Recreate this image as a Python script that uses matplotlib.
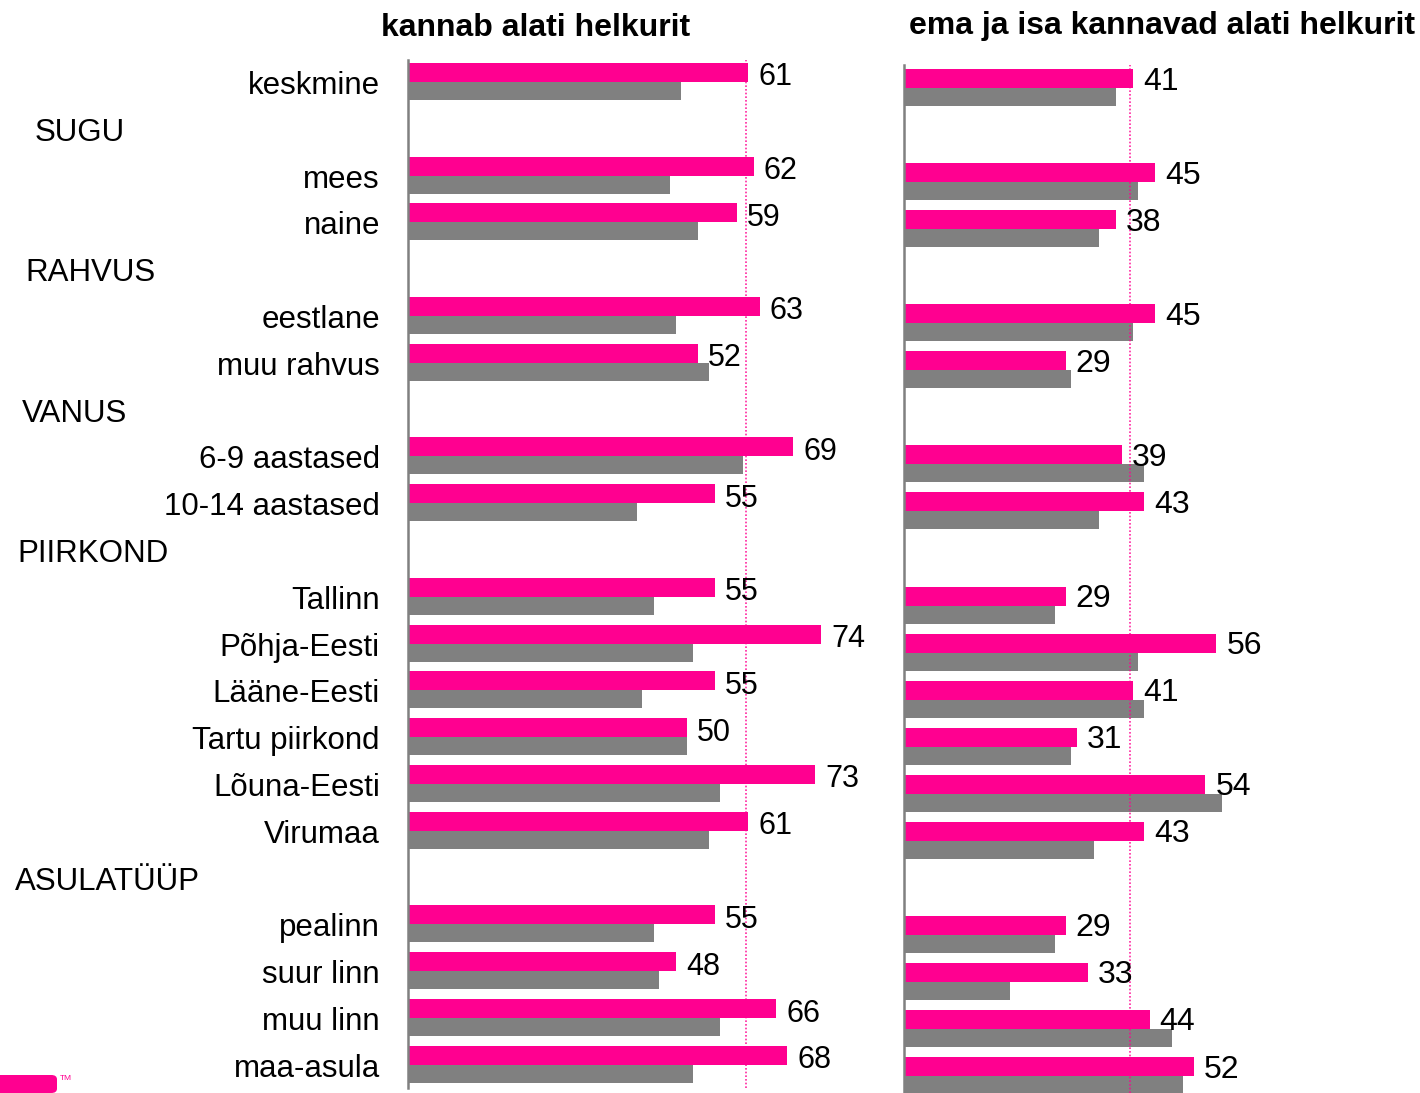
import matplotlib
matplotlib.use("Agg")
import matplotlib.pyplot as plt
from matplotlib import font_manager
from matplotlib.patches import FancyBboxPatch

# ---------------- data ----------------
rows = ["keskmine", "SUGU", "mees", "naine", "RAHVUS", "eestlane", "muu rahvus",
        "VANUS", "6-9 aastased", "10-14 aastased", "PIIRKOND", "Tallinn",
        "Põhja-Eesti", "Lääne-Eesti", "Tartu piirkond", "Lõuna-Eesti", "Virumaa",
        "ASULATÜÜP", "pealinn", "suur linn", "muu linn", "maa-asula"]
headers = ["SUGU", "RAHVUS", "VANUS", "PIIRKOND", "ASULATÜÜP"]

left_title = "kannab alati helkurit"
right_title = "ema ja isa kannavad alati helkurit"

# None = group header row (no bars)
left_pink = [61, None, 62, 59, None, 63, 52, None, 69, 55, None, 55, 74, 55, 50, 73, 61,
             None, 55, 48, 66, 68]
left_gray = [49, None, 47, 52, None, 48, 54, None, 60, 41, None, 44, 51, 42, 50, 56, 54,
             None, 44, 45, 56, 51]
right_pink = [41, None, 45, 38, None, 45, 29, None, 39, 43, None, 29, 56, 41, 31, 54, 43,
              None, 29, 33, 44, 52]
right_gray = [38, None, 42, 35, None, 41, 30, None, 43, 35, None, 27, 42, 43, 30, 57, 34,
              None, 27, 19, 48, 50]
left_mean = 60.6
right_mean = 40.5

# ---------------- style ----------------
PINK = "#FF0090"
GRAY = "#808080"
W, H = 1420, 1093
fig = plt.figure(figsize=(W / 100, H / 100), dpi=100)

avail = {f.name for f in font_manager.fontManager.ttflist}
BASE = "Liberation Sans" if "Liberation Sans" in avail else "DejaVu Sans"
NARROW = "Liberation Sans Narrow" if "Liberation Sans Narrow" in avail else None
plt.rcParams["font.family"] = [BASE, "DejaVu Sans"]

PX_PER_UNIT = 5.58


def make_axes(x0, x1, row0_px, row_step, top_px, bottom_px):
    n = len(rows) - 1
    y_top = -(row0_px - top_px) / row_step
    y_bot = n + (bottom_px - (row0_px + n * row_step)) / row_step
    ax = fig.add_axes([x0 / W, 1 - bottom_px / H, (x1 - x0) / W, (bottom_px - top_px) / H])
    ax.set_xlim(0, (x1 - x0) / PX_PER_UNIT)
    ax.set_ylim(y_bot, y_top)
    for s in ["top", "right", "bottom"]:
        ax.spines[s].set_visible(False)
    ax.spines["left"].set_color(GRAY)
    ax.spines["left"].set_linewidth(1.8)
    ax.set_xticks([])
    ax.set_yticks([])
    ax.patch.set_alpha(0)
    return ax


def draw(ax, pink, gray, mean, label_kw, row_step, dy):
    ph = 19 / row_step
    gh = 18 / row_step
    for i, (p, g) in enumerate(zip(pink, gray)):
        if p is None:
            continue
        ax.barh(i - ph / 2, p, height=ph, color=PINK, linewidth=0)
        ax.barh(i + gh / 2, g, height=gh, color=GRAY, linewidth=0)
        ax.text(p + 10 / PX_PER_UNIT, i - ph / 2 + dy / row_step, str(p), ha="left",
                va="center", color="black", **label_kw)
    ax.axvline(mean, color=PINK, linestyle=(0, (1, 1.2)), linewidth=1.2, alpha=0.85)


left_step = 46.8
right_step = 47.05
axL = make_axes(408, 880, 82, left_step, 60, 1088)
axR = make_axes(904, 1415, 88, right_step, 65, 1093)

draw(axL, left_pink, left_gray, left_mean, dict(fontsize=22), left_step, 5)
if NARROW:
    rkw = dict(fontsize=25, family=[NARROW, BASE])
else:
    rkw = dict(fontsize=23, family=[BASE])
draw(axR, right_pink, right_gray, right_mean, rkw, right_step, 3)

# category labels and group headers
header_x = {"SUGU": 35, "RAHVUS": 25, "VANUS": 22, "PIIRKOND": 17, "ASULATÜÜP": 15}
for i, name in enumerate(rows):
    ypx = 86 + left_step * i
    if name in headers:
        fig.text(header_x[name] / W, 1 - ypx / H, name, ha="left", va="center",
                 fontsize=22.5, color="black")
    else:
        fig.text(380 / W, 1 - ypx / H, name, ha="right", va="center",
                 fontsize=22.5, color="black")

# titles
fig.text(536 / W, 1 - 28 / H, left_title, ha="center", va="center",
         fontsize=23, fontweight="bold")
fig.text(1162 / W, 1 - 26 / H, right_title, ha="center", va="center",
         fontsize=23, fontweight="bold")

# logo mark bottom-left
logo = FancyBboxPatch((-10 / W, 1 - 1093 / H), 67 / W, 18 / H,
                      boxstyle="round,pad=0,rounding_size=0.004",
                      transform=fig.transFigure, facecolor=PINK, edgecolor="none")
fig.add_artist(logo)
fig.text(60 / W, 1 - 1079 / H, "TM", fontsize=6, color=PINK, ha="left", va="center")

fig.savefig("out.png", dpi=100)
